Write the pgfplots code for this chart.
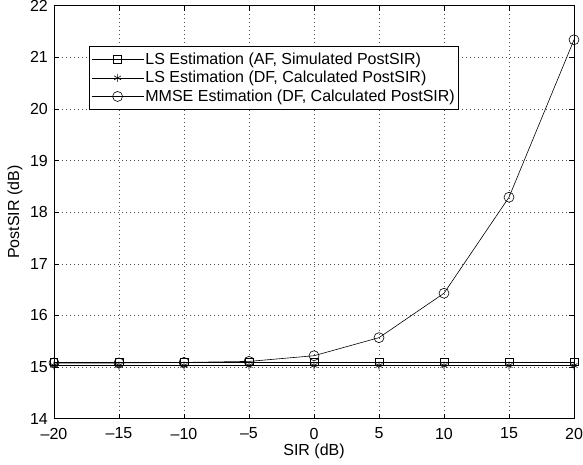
\documentclass[border=0pt]{standalone}
\usepackage{fontspec}
\setmainfont{Liberation Sans}
\usepackage{pgfplots}
\pgfplotsset{compat=1.18}
\begin{document}
\begin{tikzpicture}[font=\fontsize{16}{19}\selectfont]
\begin{axis}[
  at={(0,0)}, anchor=south west,
  scale only axis,
  width=520pt, height=413pt,
  xmin=-20, xmax=20, ymin=14, ymax=22,
  xtick={-20,-15,...,20},
  xticklabels={--20,--15,--10,--5,0,5,10,15,20},
  ytick={14,15,...,22},
  /pgf/number format/assume math mode=true,
  tick align=inside,
  major tick length=5pt,
  tick style={black, line width=0.6pt},
  axis line style={black, line width=0.6pt},
  grid=major,
  grid style={dash pattern=on 0.8pt off 3.2pt, black!70, line width=0.6pt},
  xticklabel style={inner sep=0pt, anchor=north, yshift=-9pt},
  yticklabel style={inner sep=0pt, anchor=east, xshift=-6pt},
  xlabel={SIR (dB)},
  ylabel={PostSIR (dB)},
  xlabel style={at={(axis description cs:0.5,-0.0787)}, anchor=center, inner sep=0pt},
  ylabel style={at={(axis description cs:-0.075,0.5)}, anchor=center, inner sep=0pt},
  every axis plot post/.append style={legend image code/.code={%
    \draw[mark repeat=2,mark phase=2,#1] plot coordinates {(0pt,0pt) (26pt,0pt) (52pt,0pt)};}},
  legend cell align=left,
  legend style={at={(0.0673,0.902)}, anchor=north west, draw=black, line width=0.6pt, fill=white,
    inner xsep=2pt, inner ysep=3.5pt, row sep=0pt, nodes={inner xsep=1.5pt, inner ysep=2.75pt}},
]
\addplot[black, line width=0.6pt, mark=square, mark size=3.8pt, mark options={solid, line width=0.6pt}]
 coordinates {(-20,15.1) (-15,15.1) (-10,15.1) (-5,15.1) (0,15.1) (5,15.1) (10,15.1) (15,15.1) (20,15.1)};
\addlegendentry{LS Estimation (AF, Simulated PostSIR)}
\addplot[black, line width=0.6pt, mark=asterisk, mark size=4pt, mark options={solid, line width=0.6pt}]
 coordinates {(-20,15.03) (-15,15.03) (-10,15.03) (-5,15.03) (0,15.03) (5,15.03) (10,15.03) (15,15.03) (20,15.03)};
\addlegendentry{LS Estimation (DF, Calculated PostSIR)}
\addplot[black, line width=0.6pt, mark=o, mark size=5pt, mark options={solid, line width=0.6pt}]
 coordinates {(-20,15.08) (-15,15.08) (-10,15.09) (-5,15.11) (0,15.22) (5,15.57) (10,16.43) (15,18.29) (20,21.34)};
\addlegendentry{MMSE Estimation (DF, Calculated PostSIR)}
\end{axis}
\pgfresetboundingbox
\path[use as bounding box] (-54pt,-45.5pt) rectangle (529pt,418.7pt);
\end{tikzpicture}
\end{document}
